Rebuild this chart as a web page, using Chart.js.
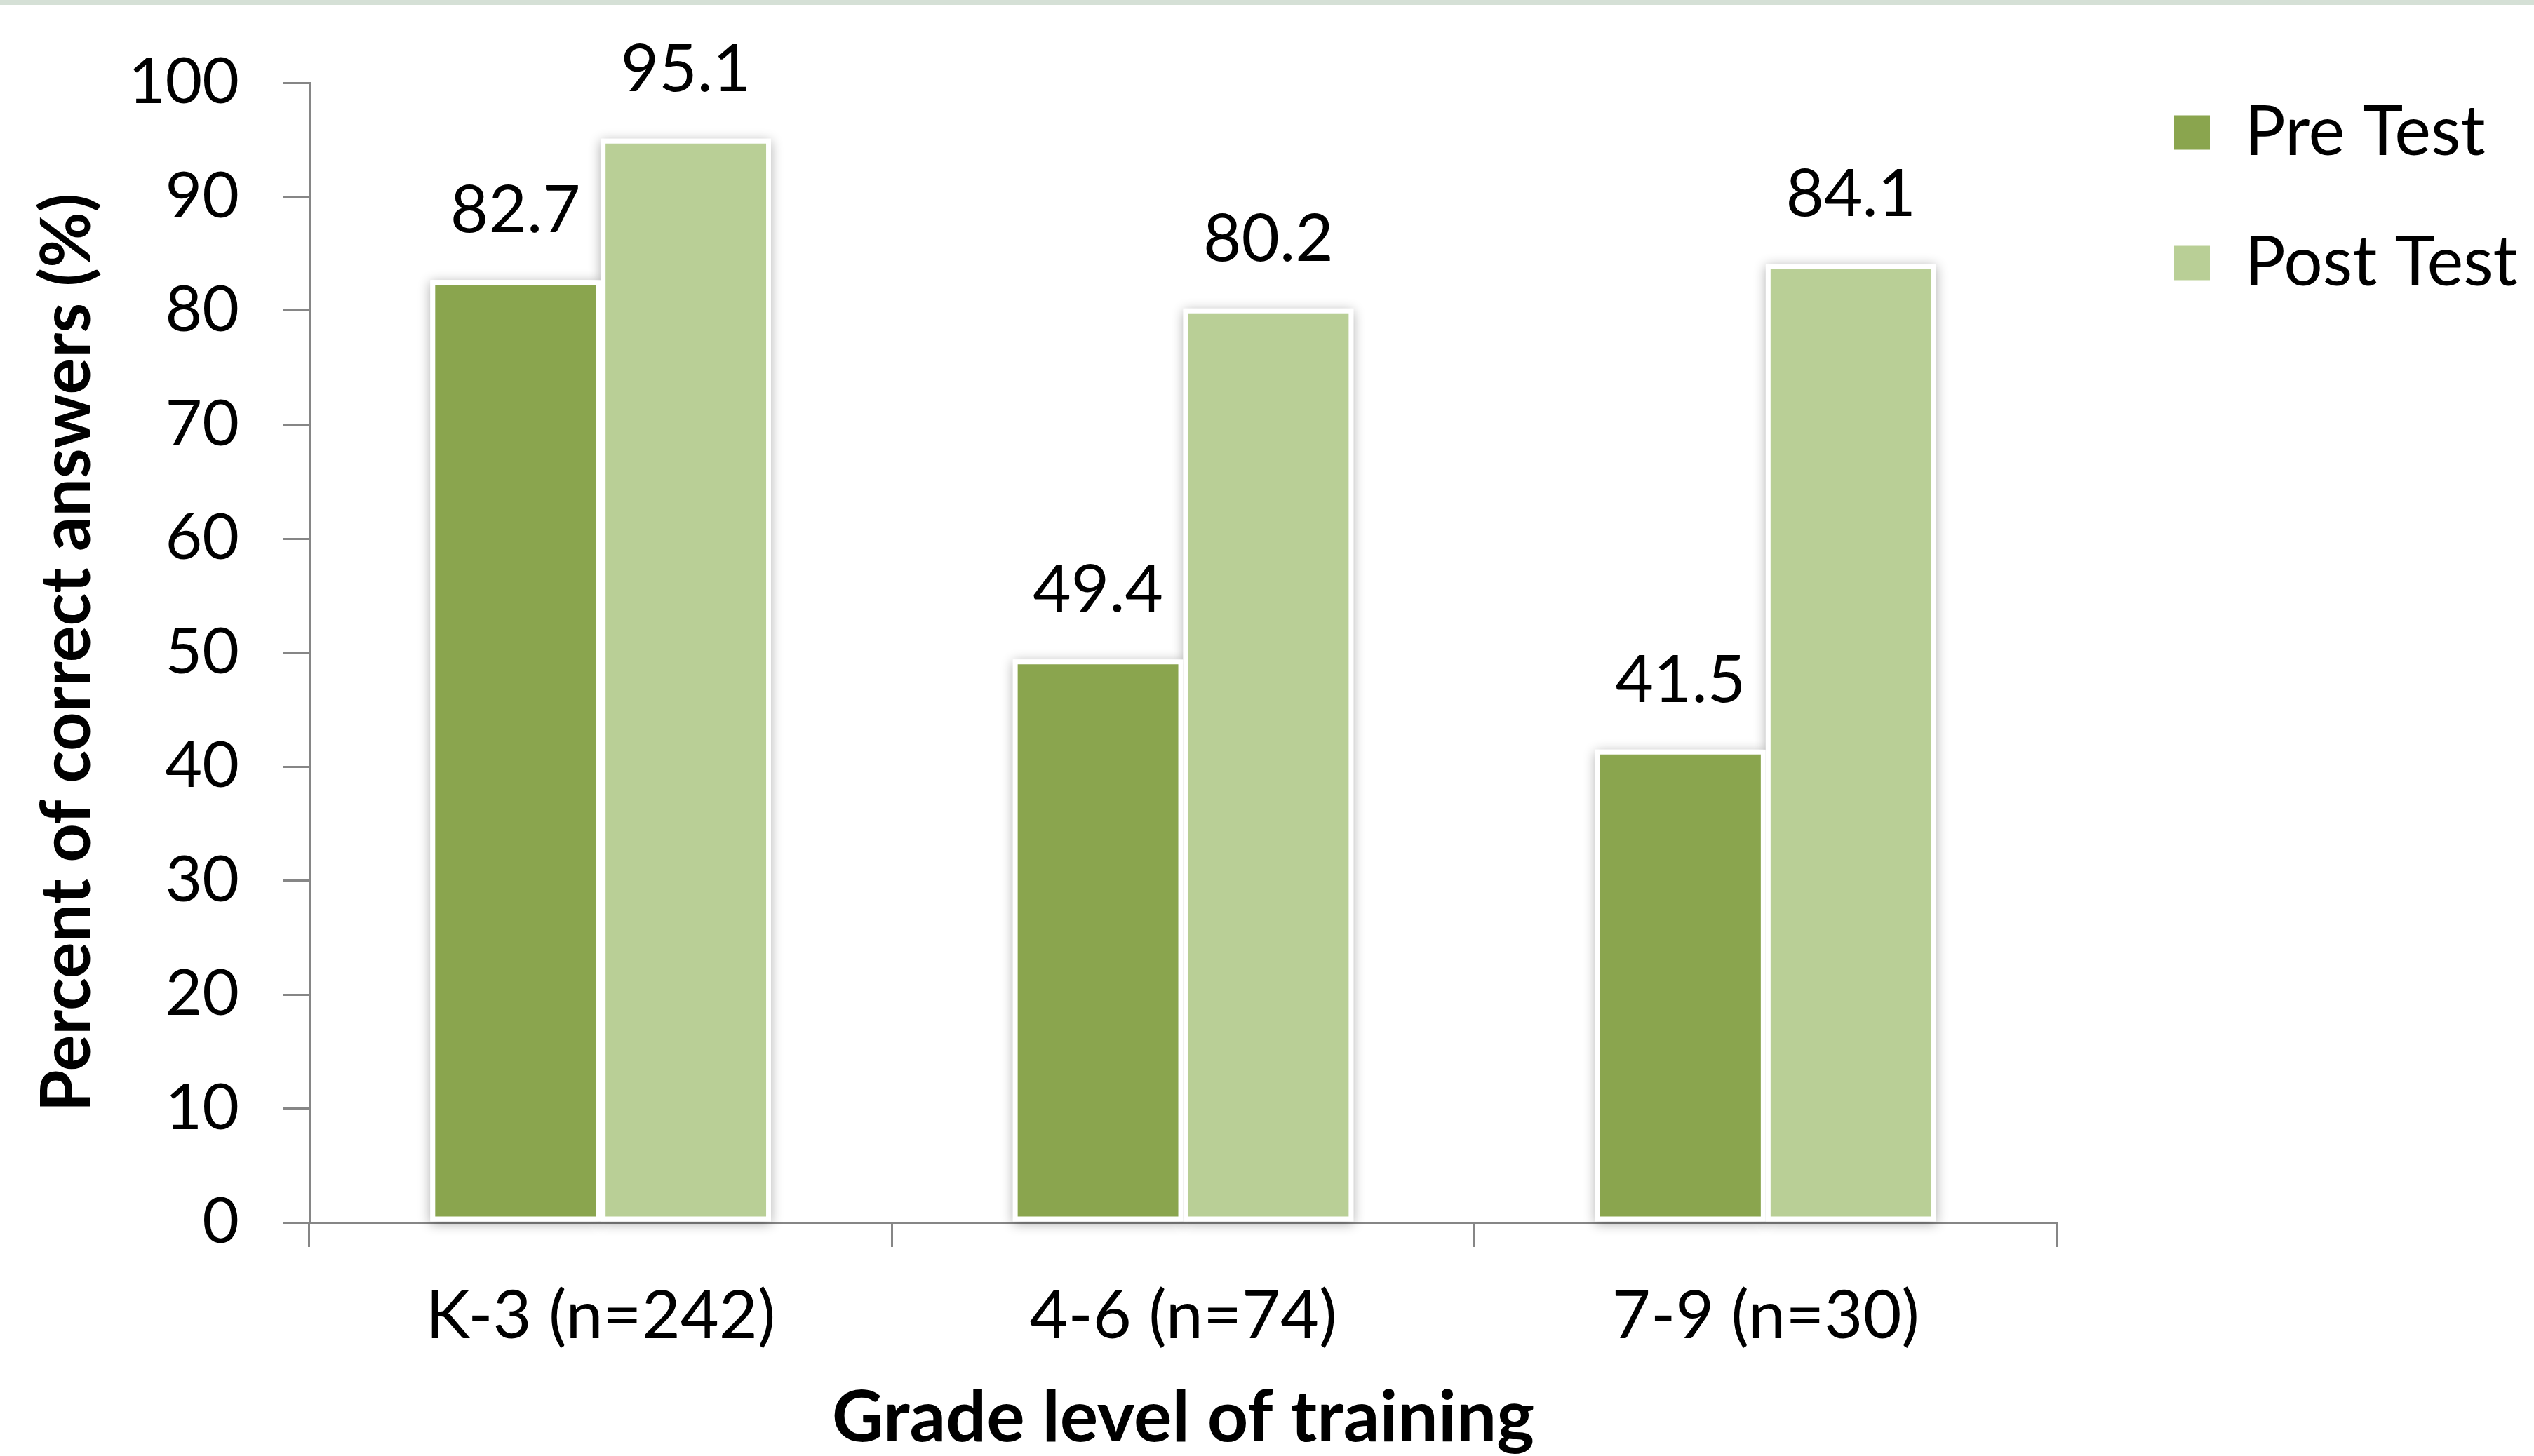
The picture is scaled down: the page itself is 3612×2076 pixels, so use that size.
<!DOCTYPE html>
<html><head><meta charset="utf-8">
<script src="https://cdn.jsdelivr.net/npm/chart.js@4.4.1/dist/chart.umd.min.js"></script>
<style>
html,body{margin:0;padding:0;background:#fff;overflow:hidden}
#wrap{position:relative;width:3612px;height:2076px}
#band{position:absolute;left:0;top:0;width:3612px;height:7px;background:#d5e0d6}
canvas{display:block}
</style></head><body>
<div id="wrap"><canvas id="c" width="3612" height="2076"></canvas><div id="band"></div></div>
<script>
const categories = ['K-3 (n=242)', '4-6 (n=74)', '7-9 (n=30)'];
const seriesNames = ['Pre Test', 'Post Test'];
const preTest = [82.7, 49.4, 41.5];
const postTest = [95.1, 80.2, 84.1];
const seriesColors = ['#8aa54e', '#b9cf96'];
const yMin = 0, yMax = 100, yStep = 10;
const xTitle = 'Grade level of training';
const yTitle = 'Percent of correct answers (%)';

const FONT = 'Lato, "Open Sans", sans-serif';

const barShadow = {
  id: 'barShadow',
  beforeDatasetsDraw(chart) {
    const ctx = chart.ctx;
    ctx.save();
    ctx.shadowColor = 'rgba(0,0,0,0.32)';
    ctx.shadowBlur = 16;
    ctx.shadowOffsetX = 0;
    ctx.shadowOffsetY = 3;
    ctx.fillStyle = '#ffffff';
    chart.data.datasets.forEach((ds, i) => {
      chart.getDatasetMeta(i).data.forEach(el => {
        const p = el.getProps(['x', 'y', 'base', 'width'], true);
        ctx.fillRect(p.x - p.width / 2, p.y, p.width, p.base - p.y);
      });
    });
    ctx.restore();
  }
};

const valueLabels = {
  id: 'valueLabels',
  afterDatasetsDraw(chart) {
    const ctx = chart.ctx;
    ctx.save();
    ctx.font = '94px ' + FONT;
    ctx.fillStyle = '#000';
    ctx.textAlign = 'center';
    ctx.textBaseline = 'alphabetic';
    chart.data.datasets.forEach((ds, i) => {
      chart.getDatasetMeta(i).data.forEach((el, j) => {
        const p = el.getProps(['x', 'y'], true);
        ctx.fillText(ds.data[j].toFixed(1), p.x, p.y - 68);
      });
    });
    ctx.restore();
  }
};

const LEGEND_W = 3612 - 2932;
const legendPlace = {
  id: 'legendPlace',
  beforeInit(chart) {
    const lg = chart.legend;
    const f = lg.fit.bind(lg);
    lg.fit = function () { f(); this.width = LEGEND_W; };
  },
  afterLayout(chart) {
    const lg = chart.legend;
    const pad = lg.options.labels.padding;
    const dx = 3099 - pad - lg.left;
    lg.left += dx; lg.right += dx;
    const dy = 140 - pad - lg.top;
    lg.top += dy;
  }
};

new Chart(document.getElementById('c'), {
  type: 'bar',
  data: {
    labels: categories,
    datasets: [
      { label: seriesNames[0], data: preTest, backgroundColor: seriesColors[0], borderColor: '#ffffff', borderWidth: 7, borderSkipped: false },
      { label: seriesNames[1], data: postTest, backgroundColor: seriesColors[1], borderColor: '#ffffff', borderWidth: 7, borderSkipped: false }
    ]
  },
  options: {
    responsive: false,
    animation: false,
    devicePixelRatio: 1,
    layout: { padding: { top: 118, left: 0, right: 0, bottom: 0 } },
    datasets: { bar: { categoryPercentage: 0.585, barPercentage: 1.0 } },
    plugins: {
      tooltip: { enabled: false },
      legend: {
        position: 'right',
        align: 'start',
        labels: {
          font: { family: FONT, size: 98 },
          color: '#000',
          boxWidth: 51,
          boxHeight: 49,
          padding: 88,
          generateLabels(chart) {
            const items = Chart.defaults.plugins.legend.labels.generateLabels(chart);
            items.forEach(it => { it.lineWidth = 0; });
            return items;
          }
        }
      }
    },
    scales: {
      x: {
        z: 1,
        afterFit(s) { s.height = 2076 - 1743; },
        grid: { drawOnChartArea: false, offset: true, tickLength: 35, color: '#868686', lineWidth: 3 },
        border: { color: '#868686', width: 3 },
        ticks: { color: '#000', font: { family: FONT, size: 95 }, padding: 42 },
        title: { display: true, text: xTitle, color: '#000', font: { family: FONT, size: 102, weight: 'bold', lineHeight: 1.06 }, padding: { top: 0, bottom: 0 } }
      },
      y: {
        min: yMin, max: yMax,
        afterFit(s) { s.width = 441; },
        grid: { drawOnChartArea: false, tickLength: 37, color: '#868686', lineWidth: 3 },
        border: { color: '#868686', width: 3 },
        ticks: { stepSize: yStep, color: '#000', font: { family: FONT, size: 91 }, padding: 63 },
        title: { display: true, text: yTitle, color: '#000', font: { family: FONT, size: 97, weight: 'bold' }, padding: { top: 39, bottom: 0 } }
      }
    }
  },
  plugins: [barShadow, valueLabels, legendPlace]
});
</script>
</body></html>
